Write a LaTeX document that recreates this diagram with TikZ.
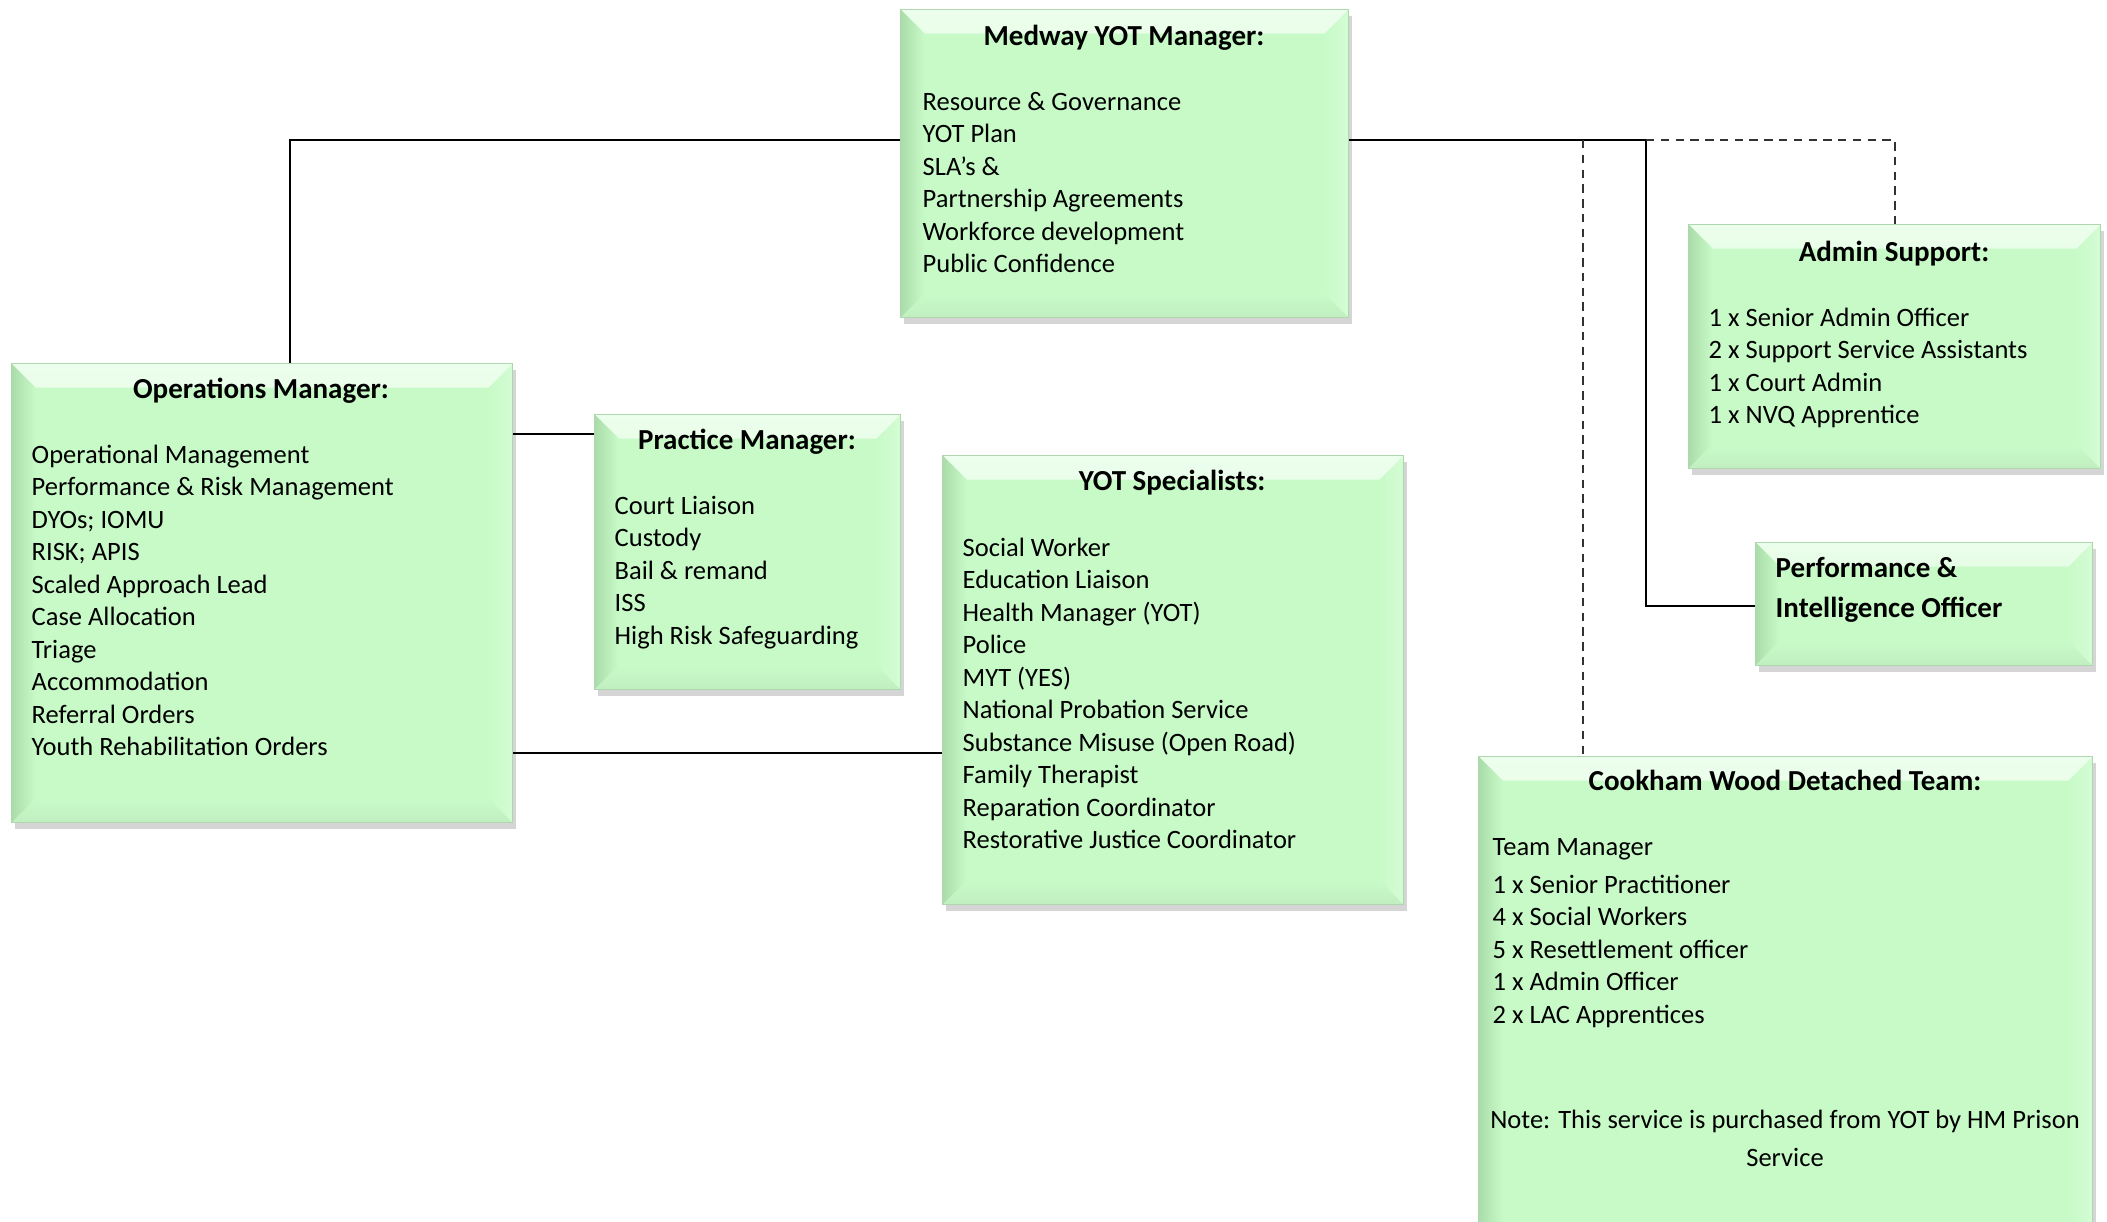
\documentclass[tikz,border=0pt]{standalone}
\usepackage{fontspec}
\setmainfont{Carlito}
\usetikzlibrary{shadows,calc}
\definecolor{boxfill}{RGB}{200,250,200}
\definecolor{bevtop}{RGB}{236,254,236}
\definecolor{bevleft}{RGB}{170,220,170}
\definecolor{bevbottom}{RGB}{192,238,192}
\definecolor{bevright}{RGB}{212,252,212}
\definecolor{boxedge}{RGB}{175,215,175}
\definecolor{dashgrey}{RGB}{50,50,50}
\tikzset{
  bbox/.style={anchor=north west, inner sep=0pt, fill=boxfill, draw=boxedge, line width=0.3pt,
    drop shadow={shadow xshift=0.03cm, shadow yshift=-0.06cm, opacity=0.3, fill=black!55},
    path picture={
      \shade[top color=bevtop, bottom color=boxfill]
        (path picture bounding box.north west) -- (path picture bounding box.north east)
        -- ([xshift=-0.24cm,yshift=-0.24cm]path picture bounding box.north east)
        -- ([xshift=0.24cm,yshift=-0.24cm]path picture bounding box.north west) -- cycle;
      \shade[left color=bevleft, right color=boxfill]
        (path picture bounding box.north west) -- ([xshift=0.24cm,yshift=-0.24cm]path picture bounding box.north west)
        -- ([xshift=0.24cm,yshift=0.24cm]path picture bounding box.south west)
        -- (path picture bounding box.south west) -- cycle;
      \shade[bottom color=bevbottom, top color=boxfill]
        (path picture bounding box.south west) -- ([xshift=0.24cm,yshift=0.24cm]path picture bounding box.south west)
        -- ([xshift=-0.24cm,yshift=0.24cm]path picture bounding box.south east)
        -- (path picture bounding box.south east) -- cycle;
      \shade[left color=boxfill, right color=bevright]
        (path picture bounding box.north east) -- ([xshift=-0.24cm,yshift=-0.24cm]path picture bounding box.north east)
        -- ([xshift=-0.24cm,yshift=0.24cm]path picture bounding box.south east)
        -- (path picture bounding box.south east) -- cycle;
    }},
  bodytxt/.style={font=\fontsize{7.54}{9}\selectfont, inner sep=0pt, anchor=base west},
  titletxt/.style={font=\fontsize{8.25}{10}\selectfont\bfseries, inner sep=0pt, anchor=base},
  boldtxt/.style={font=\fontsize{8.25}{10}\selectfont\bfseries, inner sep=0pt, anchor=base west},
  conn/.style={draw=black, line width=0.6pt},
  dashconn/.style={draw=dashgrey, line width=0.6pt, dash pattern=on 2.4pt off 1.8pt},
}
\newcommand\boxlines[5]{%
  \foreach \t [count=\i from 0] in {#5} {
    \node[bodytxt] (#1-\i) at (#2, {#3+\i*#4}) {\t};
  }%
}
\begin{document}
\begin{tikzpicture}[x=0.01cm, y=-0.01cm]
\useasboundingbox (0,0) rectangle (2107,1221);
\clip (0,0) rectangle (2107,1221);

% boxes
\node[bbox, minimum width=4.48cm, minimum height=3.08cm] (med) at (900,9) {};
\node[bbox, minimum width=5.01cm, minimum height=4.59cm] (ops) at (11,363) {};
\node[bbox, minimum width=3.06cm, minimum height=2.75cm] (prac) at (594,414) {};
\node[bbox, minimum width=4.61cm, minimum height=4.49cm] (spec) at (942,455) {};
\node[bbox, minimum width=4.12cm, minimum height=2.44cm] (admin) at (1688,224) {};
\node[bbox, minimum width=3.37cm, minimum height=1.23cm] (perf) at (1755,542) {};
\node[bbox, minimum width=6.14cm, minimum height=4.90cm] (cook) at (1478,756) {};

% texts
\node[titletxt] (medT) at (1124,45) {Medway YOT Manager:};
\boxlines{medL}{922}{110}{32.55}{Resource \& Governance, YOT Plan, SLA’s \&, Partnership Agreements, Workforce development, Public Confidence}

\node[titletxt] (opsT) at (261,398) {Operations Manager:};
\boxlines{opsL}{31}{463}{32.55}{Operational Management, Performance \& Risk Management, DYOs; IOMU, RISK; APIS, Scaled Approach Lead, Case Allocation, Triage, Accommodation, Referral Orders, Youth Rehabilitation Orders}

\node[titletxt] (pracT) at (747,449) {Practice Manager:};
\boxlines{pracL}{614}{514}{32.55}{Court Liaison, Custody, Bail \& remand, ISS, High Risk Safeguarding}

\node[titletxt] (specT) at (1172,490) {YOT Specialists:};
\boxlines{specL}{962}{556}{32.55}{Social Worker, Education Liaison, Health Manager (YOT), Police, MYT (YES), National Probation Service, Substance Misuse (Open Road), Family Therapist, Reparation Coordinator, Restorative Justice Coordinator}

\node[titletxt] (adminT) at (1894,261) {Admin Support:};
\boxlines{adminL}{1708}{326}{32.55}{1 x Senior Admin Officer, 2 x Support Service Assistants, 1 x Court Admin, 1 x NVQ Apprentice}

\node[boldtxt] (perfA) at (1775,577) {Performance \&};
\node[boldtxt] (perfB) at (1775,617) {Intelligence Officer};

\node[titletxt] (cookT) at (1785,790) {Cookham Wood Detached Team:};
\node[bodytxt] (cookTM) at (1492,855) {Team Manager};
\boxlines{cookL}{1492}{893}{32.55}{1 x Senior Practitioner, 4 x Social Workers, 5 x Resettlement officer, 1 x Admin Officer, 2 x LAC Apprentices}
\node[bodytxt, anchor=base] (cookN1) at (1785,1128) {Note: This service is purchased from YOT by HM Prison};
\node[bodytxt, anchor=base] (cookN2) at (1785,1166) {Service};

% connectors
\coordinate (jL) at (290,140);
\coordinate (jR) at (1646,140);
\coordinate (jP) at (1646,606);
\coordinate (jA) at (1895,140);
\coordinate (jC) at (1583,140);
\coordinate (jOP) at (512,434);
\coordinate (jOY) at (512,753);

\draw[conn] (med.west |- jL) -- (jL) -- (ops.north -| jL);
\draw[conn] (med.east |- jR) -- (jR) -- (jP) -- (perf.west |- jP);
\draw[dashconn] (jR) -- (jA) -- (admin.north -| jA);
\draw[dashconn] (jC) -- (cook.north -| jC);
\draw[conn] (ops.east |- jOP) -- (prac.west |- jOP);
\draw[conn] (ops.east |- jOY) -- (spec.west |- jOY);
\end{tikzpicture}
\end{document}
